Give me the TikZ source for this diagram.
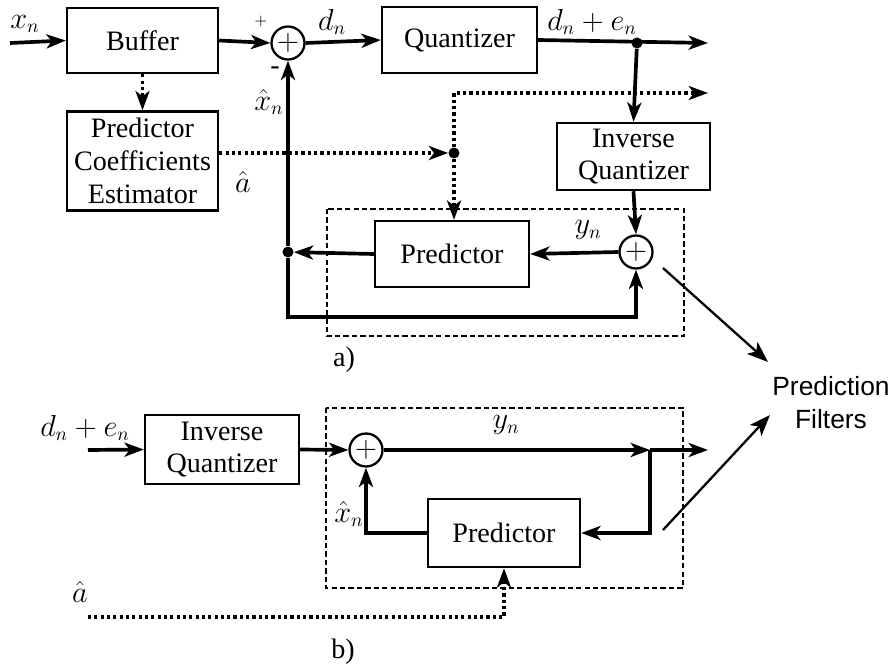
\documentclass[tikz,border=0pt]{standalone}
\usepackage{fontspec}
\setmainfont{Liberation Serif}
\newfontfamily\filterfont{Liberation Sans}
\usetikzlibrary{arrows.meta}

\begin{document}
\begin{tikzpicture}[
    x=0.02cm, y=-0.02cm,
    every node/.style={font=\fontsize{16}{18.7}\selectfont, inner sep=1pt},
    block/.style={draw, line width=1.4pt, align=center, inner sep=0pt, minimum width=3.06cm, minimum height=1.32cm},
    adder/.style={draw, circle, line width=1.3pt, minimum size=0.66cm, inner sep=0pt},
    junc/.style={circle, fill, inner sep=0pt, minimum size=0.22cm},
    sig/.style={line width=2.1pt, -{Stealth[length=11pt, width=8pt, inset=3pt]}},
    coef/.style={line width=1.8pt, dash pattern=on 1.8pt off 1.8pt, -{Stealth[length=11pt, width=8pt, inset=3pt]}},
    filt/.style={draw, line width=1.1pt, dash pattern=on 3pt off 1.8pt},
    pointer/.style={line width=1.3pt, -{Stealth[length=12pt, width=9pt, inset=3pt]}}
]
    \useasboundingbox (0,0) rectangle (894,670);

    % a) encoder
    \draw[filt] (327,209) rectangle (684,336);
    \node[block, minimum width=3.02cm, minimum height=1.3cm] (buf) at (142.5,40.5) {Buffer};
    \node[block, minimum width=3.02cm, minimum height=1.98cm] (pce) at (142.5,161) {Predictor\\Coefficients\\Estimator};
    \node[adder] (sumA) at (288,43) {$+$};
    \node[block, minimum width=3.1cm] (quant) at (459.5,40) {Quantizer};
    \node[block, minimum height=1.34cm] (iq) at (633.5,156.5) {Inverse\\Quantizer};
    \node[block, minimum width=3.08cm] (pred) at (452,254) {Predictor};
    \node[adder] (sumB) at (636,252) {$+$};

    \node[junc] (dotA) at (637,43) {};
    \node[junc] (dotB) at (454,153) {};
    \node[junc] (dotC) at (288,252) {};
    \coordinate (inA) at (10,43);
    \coordinate (outA) at (708,43);
    \coordinate (outAc) at (708,93);
    \coordinate (loopA) at (288,317);

    \node (xn) at (25,24) {$x_n$};
    \node (plus) at (261,22) {\small $+$};
    \node (minus) at (275,71) {-};
    \node (xhatA) at (269,102) {$\hat{x}_n$};
    \node (dn) at (332,22) {$d_n$};
    \node (dnen) at (592,22) {$d_n + e_n$};
    \node (ahatA) at (243,182) {$\hat{a}$};
    \node (ynA) at (588,230) {$y_n$};
    \node (lblA) at (344,360) {a)};

    \draw[sig] (inA) -- (buf.west);
    \draw[sig] (buf.east) -- (sumA.west);
    \draw[sig] (sumA.east) -- (quant.west);
    \draw[sig] (quant.east) -- (outA);
    \draw[sig] (dotA) -- (iq.north);
    \draw[sig] (iq.south) -- (sumB.north);
    \draw[sig] (sumB.west) -- (pred.east);
    \draw[sig] (pred.west) -- (dotC);
    \draw[sig] (dotC) -- (sumA.south);
    \draw[sig] (dotC) -- (loopA) -| (sumB.south);
    \draw[coef] (buf.south) -- (pce.north);
    \draw[coef] (pce.east |- dotB) -- (dotB);
    \draw[coef] (dotB) -- (dotB |- outAc) -- (outAc);
    \draw[coef] (dotB) -- (dotB |- pred.north);

    % b) decoder
    \draw[filt] (326,408) rectangle (683,588);
    \node[block, minimum width=3.08cm, minimum height=1.38cm] (iqB) at (222,449.5) {Inverse\\Quantizer};
    \node[adder] (sumC) at (366,450) {$+$};
    \node[block, minimum width=3.04cm, minimum height=1.36cm] (predB) at (504,533) {Predictor};
    \coordinate (inB) at (88,450);
    \coordinate (jB) at (650,450);
    \coordinate (outB) at (708,450);
    \coordinate (ahatIn) at (88,617);

    \node (dnenB) at (85,428) {$d_n + e_n$};
    \node (ynB) at (506,425) {$y_n$};
    \node (xhatB) at (349,514) {$\hat{x}_n$};
    \node (ahatB) at (80,592) {$\hat{a}$};
    \node (lblB) at (343,652) {b)};

    \draw[sig] (inB) -- (iqB.west);
    \draw[sig] (iqB.east) -- (sumC.west);
    \draw[sig] (sumC.east) -- (jB);
    \draw[sig] (jB) -- (outB);
    \draw[sig] (jB) |- (predB.east);
    \draw[sig] (predB.west) -| (sumC.south);
    \draw[coef] (ahatIn) -| (predB.south);

    % prediction filters
    \node[font=\filterfont\fontsize{15}{18.7}\selectfont, align=center] (pf) at (831,403) {Prediction\\Filters};
    \coordinate (fromA) at (663,268);
    \coordinate (toA) at (768,362);
    \coordinate (fromB) at (663,530);
    \coordinate (toB) at (770,415);
    \draw[pointer] (fromA) -- (toA);
    \draw[pointer] (fromB) -- (toB);
\end{tikzpicture}
\end{document}
